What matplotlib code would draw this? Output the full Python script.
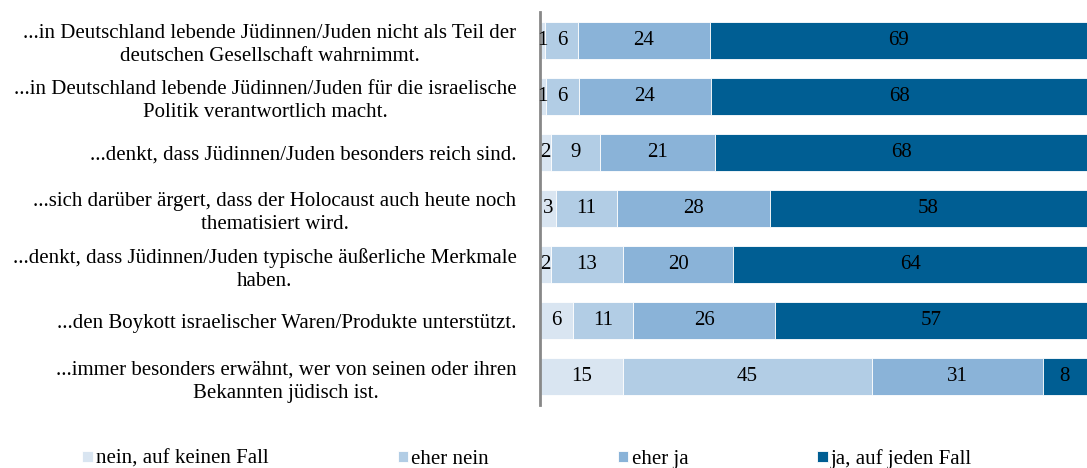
import matplotlib.pyplot as plt
import numpy as np

# --- Data ---
categories = [
    '...in Deutschland lebende Jüdinnen/Juden nicht als Teil der\ndeutschen Gesellschaft wahrnimmt.',
    '...in Deutschland lebende Jüdinnen/Juden für die israelische\nPolitik verantwortlich macht.',
    '...denkt, dass Jüdinnen/Juden besonders reich sind.',
    '...sich darüber ärgert, dass der Holocaust auch heute noch\nthematisiert wird.',
    '...denkt, dass Jüdinnen/Juden typische äußerliche Merkmale\nhaben.',
    '...den Boykott israelischer Waren/Produkte unterstützt.',
    '...immer besonders erwähnt, wer von seinen oder ihren\nBekannten jüdisch ist.',
]
series_names = ['nein, auf keinen Fall', 'eher nein', 'eher ja', 'ja, auf jeden Fall']
nein_keinen = [1, 1, 2, 3, 2, 6, 15]
eher_nein = [6, 6, 9, 11, 13, 11, 45]
eher_ja = [24, 24, 21, 28, 20, 26, 31]
ja_jeden = [69, 68, 68, 58, 64, 57, 8]
colors = ['#d9e5f1', '#b2cde5', '#8ab3d8', '#005e93']

plt.rcParams['font.family'] = ['Liberation Serif', 'DejaVu Serif']

fig = plt.figure(figsize=(10.87, 4.68), dpi=100)
ax = fig.add_axes([540 / 1087, 1 - 405 / 468, 547 / 1087, 393 / 468])

# 100% stacked: each row scaled to its own total
all_series = [np.array(s, dtype=float) for s in [nein_keinen, eher_nein, eher_ja, ja_jeden]]
totals = sum(all_series)

y = np.arange(len(categories))
left = np.zeros(len(categories))
for name, vals, col in zip(series_names, all_series, colors):
    share = vals / totals * 100
    ax.barh(y, share, left=left, height=0.66, color=col, label=name, edgecolor='white', linewidth=0.6)
    for yi, l, w, v in zip(y, left, share, vals):
        ax.text(l + w / 2, yi, '%d' % v, ha='center', va='center', fontsize=15, color='black')
    left += share

ax.set_xlim(0, 100)
ax.set_ylim(len(categories) - 0.5, -0.5)
ax.set_yticks(y)
ax.set_yticklabels(categories, fontsize=15, multialignment='center', linespacing=1.3)
ax.tick_params(axis='y', length=0, pad=17)
ax.set_xticks([])
for s in ['top', 'right', 'bottom']:
    ax.spines[s].set_visible(False)
ax.spines['left'].set_color('#888888')
ax.spines['left'].set_linewidth(2)

fig.legend(loc='center', bbox_to_anchor=(0.485, 1 - 459 / 468), ncol=4, frameon=False,
           fontsize=15, handlelength=0.5, handleheight=0.5, handletextpad=0.15,
           columnspacing=6.2)

fig.savefig('out.png', dpi=100)
